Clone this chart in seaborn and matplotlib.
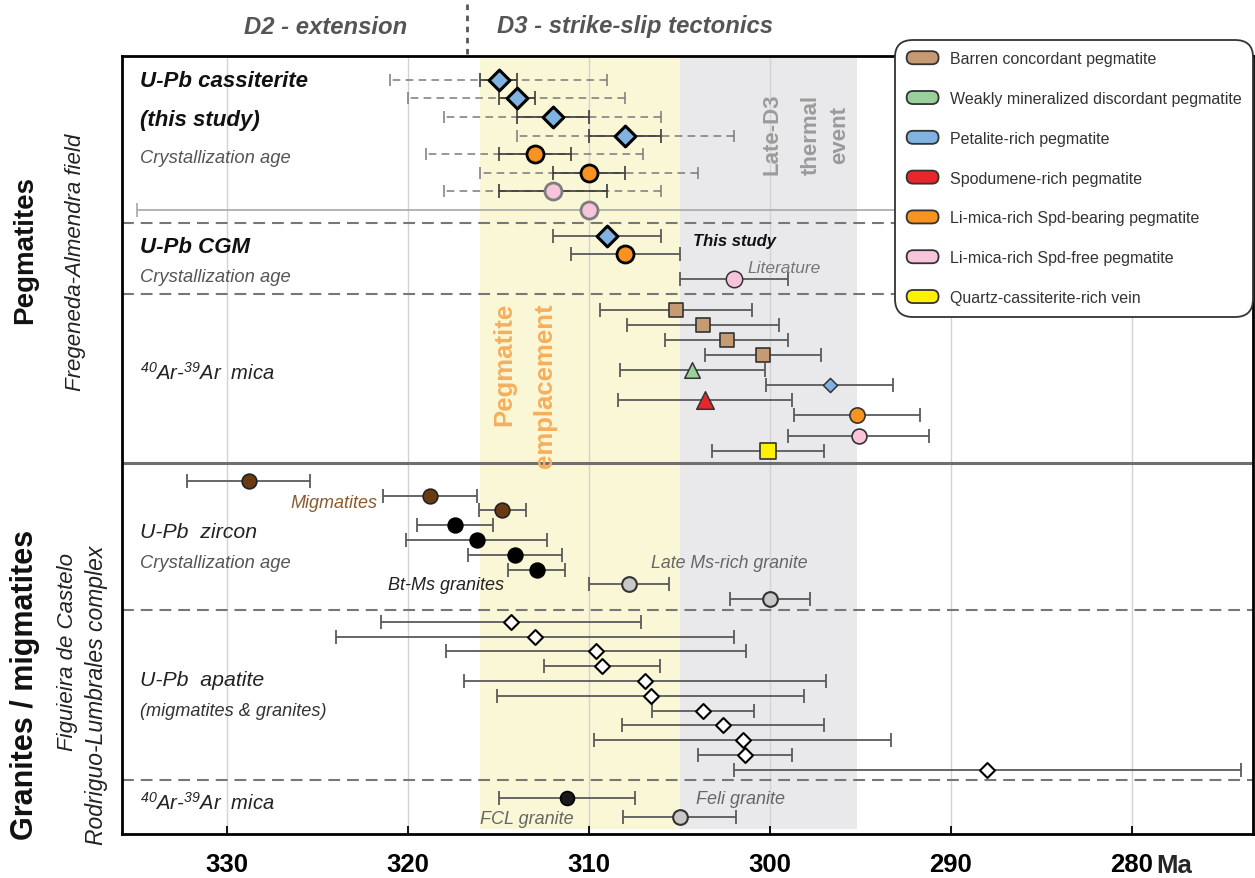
import numpy as np
import pandas as pd
import matplotlib
matplotlib.use("Agg")
import matplotlib.pyplot as plt
import matplotlib.transforms as mtransforms
from matplotlib.patches import FancyBboxPatch, Patch
from matplotlib.legend_handler import HandlerPatch
import seaborn as sns

# ------------------------------------------------------------------ data
# U-Pb cassiterite (this study): age (Ma), inner 2s, total uncertainty
cst_age   = [315.0, 314.0, 312.0, 308.0, 313.0, 310.0, 312.0, 310.0]
cst_in    = [1.0, 1.0, 2.0, 2.0, 2.0, 2.0, 3.0, 0.0]
cst_out   = [6.0, 6.0, 6.0, 6.0, 6.0, 6.0, 6.0, 25.0]
cst_group = ["cst_pet", "cst_pet", "cst_pet", "cst_pet",
             "cst_spd", "cst_spd", "cst_free", "cst_free"]

# U-Pb CGM
cgm_age   = [309.0, 308.0, 302.0]
cgm_err   = [3.0, 3.0, 3.0]
cgm_group = ["cst_pet", "cst_spd", "lit_free"]

# 40Ar-39Ar mica, pegmatites
arp_age   = [305.2, 303.7, 302.4, 300.4, 304.3, 296.7, 303.6, 295.2, 295.1, 300.1]
arp_err   = [4.2, 4.2, 3.4, 3.2, 4.0, 3.5, 4.8, 3.5, 3.9, 3.1]
arp_group = ["barren", "barren", "barren", "barren", "weak", "petalite",
             "spodumene", "limica_spd", "limica_free", "vein"]

# U-Pb zircon, granites / migmatites
zr_age   = [328.8, 318.8, 314.8, 317.4, 316.2, 314.1, 312.9, 307.8, 300.0]
zr_err   = [3.4, 2.6, 1.3, 2.1, 3.9, 2.6, 1.6, 2.2, 2.2]
zr_group = ["migmatite", "migmatite", "migmatite", "btms", "btms", "btms",
            "btms", "late", "late"]

# U-Pb apatite
ap_age = [314.3, 313.0, 309.6, 309.3, 306.9, 306.6, 303.7, 302.6, 301.5, 301.4, 288.0]
ap_err = [7.2, 11.0, 8.3, 3.2, 10.0, 8.5, 2.8, 5.6, 8.2, 2.6, 14.0]

# 40Ar-39Ar mica, granites
arg_age   = [311.2, 305.0]
arg_err   = [3.75, 3.1]
arg_group = ["fcl", "late"]

# time windows
peg_window  = (316.0, 305.0)
late_window = (305.0, 295.2)

x_ticks      = [330, 320, 310, 300, 290, 280]
x_ticklabels = ["330", "320", "310", "300", "290", "280"]

legend_labels = ["Barren concordant pegmatite",
                 "Weakly mineralized discordant pegmatite",
                 "Petalite-rich pegmatite",
                 "Spodumene-rich pegmatite",
                 "Li-mica-rich Spd-bearing pegmatite",
                 "Li-mica-rich Spd-free pegmatite",
                 "Quartz-cassiterite-rich vein"]
legend_colors = ["#C69A72", "#9BD09A", "#80B3E1", "#E8262B",
                 "#F7931E", "#F7C4DB", "#FFF200"]

# ------------------------------------------------------------------ layout
def rows(start, step, idx):
    return [start + step * i for i in idx]

cst_y = rows(23.7, 18.6, range(8))
cgm_y = rows(179.7, 18.6, [0, 1, 2.35])
arp_y = rows(253.7, 15.05, [0, 1, 2, 3, 4, 5, 6, 7, 8.4, 9.4])
zr_y  = rows(424.7, 14.8, range(9))
ap_y  = rows(565.7, 14.8, range(11))
arg_y = rows(742.0, 19.3, [0, 1])

STYLE = {
    "cst_pet":    dict(marker="D", s=112, fc="#80B3E1", ec="black", lw=2.2),
    "cst_spd":    dict(marker="o", s=150, fc="#F7931E", ec="black", lw=2.0),
    "cst_free":   dict(marker="o", s=150, fc="#F7C4DB", ec="#7d7d7d", lw=2.0),
    "lit_free":   dict(marker="o", s=140, fc="#F7C4DB", ec="#333333", lw=1.1),
    "barren":     dict(marker="s", s=95,  fc="#C69A72", ec="#333333", lw=1.2),
    "weak":       dict(marker="^", s=125, fc="#9BD09A", ec="#333333", lw=1.1),
    "petalite":   dict(marker="D", s=52,  fc="#80B3E1", ec="#333333", lw=1.1),
    "spodumene":  dict(marker="^", s=160, fc="#E8262B", ec="#333333", lw=1.1),
    "limica_spd": dict(marker="o", s=120, fc="#F7931E", ec="#333333", lw=1.2),
    "limica_free":dict(marker="o", s=115, fc="#F7C4DB", ec="#333333", lw=1.2),
    "vein":       dict(marker="s", s=118, fc="#FFF200", ec="#333333", lw=1.2),
    "migmatite":  dict(marker="o", s=112, fc="#6A3A12", ec="#222222", lw=1.2),
    "btms":       dict(marker="o", s=112, fc="#000000", ec="#000000", lw=1.2),
    "late":       dict(marker="o", s=112, fc="#C8C8C8", ec="#333333", lw=1.5),
    "fcl":        dict(marker="o", s=100, fc="#1a1a1a", ec="#000000", lw=1.2),
    "apatite":    dict(marker="D", s=58,  fc="white",   ec="black",   lw=1.5),
}

def px_age(px):
    return 330 - (px - 227) / 18.1

# ------------------------------------------------------------------ style
sns.set_theme(style="white")
FONT = ["Liberation Sans", "DejaVu Sans"]
plt.rcParams["font.family"] = FONT
plt.rcParams["mathtext.fontset"] = "custom"
plt.rcParams["mathtext.rm"] = "Liberation Sans:italic"
plt.rcParams["mathtext.it"] = "Liberation Sans:italic"
plt.rcParams["lines.scale_dashes"] = False

fig = plt.figure(figsize=(12.55, 8.79), dpi=100)
ax = fig.add_axes([122 / 1255, 44 / 879, (1253 - 122) / 1255, 778 / 879])
ax.set_xlim(px_age(122), px_age(1253))
ax.set_ylim(778, 0)

# bands
ax.axvspan(*peg_window, ymin=0.007, color="#FAF7D7", lw=0, zorder=0)
ax.axvspan(*late_window, ymin=0.007, color="#E9E9EB", lw=0, zorder=0)

# grid
ax.set_xticks(x_ticks)
ax.set_xticklabels(x_ticklabels)
ax.grid(axis="x", color="#d2d2d2", lw=1.0, zorder=0.5)
ax.grid(axis="y", visible=False)
ax.set_yticks([])

# separators
for yy in [167, 238, 554, 724]:
    ax.axhline(yy, color="#777777", lw=1.5, ls=(0, (8.5, 5)), zorder=1)
ax.axhline(407, color="#6f6f6f", lw=2.2, zorder=1)

def errbar(x, y, e, color="#5a5a5a", lw=1.3, cap=5, ls="-", z=2):
    c = ax.errorbar(x, y, xerr=e, fmt="none", ecolor=color, elinewidth=lw,
                    capsize=cap, capthick=lw, zorder=z)
    if ls != "-":
        c.lines[2][0].set_linestyle(ls)
    return c

def points(x, y, groups):
    df = pd.DataFrame({"age": x, "y": y, "group": groups})
    for g, sub in df.groupby("group", sort=False):
        st = STYLE[g]
        sns.scatterplot(data=sub, x="age", y="y", marker=st["marker"], s=st["s"],
                        color=st["fc"], edgecolor=st["ec"], linewidth=st["lw"],
                        ax=ax, zorder=4, legend=False)

# cassiterite
solid_mask = [e == 0 for e in cst_in]
dx = [a for a, m in zip(cst_age, solid_mask) if not m]
dy = [b for b, m in zip(cst_y, solid_mask) if not m]
do = [o for o, m in zip(cst_out, solid_mask) if not m]
di = [i for i, m in zip(cst_in, solid_mask) if not m]
errbar(dx, dy, do, color="#7a7a7a", lw=1.1, cap=4.5, ls=(0, (5.5, 3.8)))
errbar(dx, dy, di, color="#3a3a3a", lw=1.2, cap=5, z=2.5)
sx = [a for a, m in zip(cst_age, solid_mask) if m]
sy = [b for b, m in zip(cst_y, solid_mask) if m]
so = [o for o, m in zip(cst_out, solid_mask) if m]
errbar(sx, sy, so, color="#a8a8a8", lw=1.2, cap=5)
points(cst_age, cst_y, cst_group)

# CGM
errbar(cgm_age, cgm_y, cgm_err)
points(cgm_age, cgm_y, cgm_group)

# Ar-Ar pegmatites
errbar(arp_age, arp_y, arp_err)
points(arp_age, arp_y, arp_group)

# zircon
errbar(zr_age, zr_y, zr_err)
points(zr_age, zr_y, zr_group)

# apatite
errbar(ap_age, ap_y, ap_err)
points(ap_age, ap_y, ["apatite"] * len(ap_age))

# Ar-Ar granites
errbar(arg_age, arg_y, arg_err)
points(arg_age, arg_y, arg_group)

ax.set_xlabel("")
ax.set_ylabel("")

# frame and ticks
for sp in ax.spines.values():
    sp.set_visible(True)
    sp.set_color("black")
    sp.set_linewidth(2.0)
ax.tick_params(axis="x", direction="in", length=6, width=1.3, color="black",
               pad=13, labelsize=18.5, bottom=True, top=False)
for lab_ in ax.get_xticklabels():
    lab_.set_fontweight("bold")
    lab_.set_color("black")
ax.text(280, 0, "Ma", ha="left", va="top", fontsize=18.5, fontweight="bold",
        transform=mtransforms.blended_transform_factory(ax.transData, ax.transAxes)
        + mtransforms.ScaledTranslation(17.5 / 72, -13.5 / 72, fig.dpi_scale_trans))

# ------------------------------------------------------------------ texts in axes
XL = px_age(140)
def lab(y, s, size, weight="normal", color="#222222", style="italic", x=XL, **kw):
    ax.text(x, y, s, fontsize=size, fontweight=weight, color=color, style=style,
            ha=kw.pop("ha", "left"), va=kw.pop("va", "center"), zorder=6, **kw)

lab(24, "U-Pb cassiterite", 16, "bold", "#111111")
lab(63, "(this study)", 16, "bold", "#111111")
lab(101, "Crystallization age", 13.2, color="#555555")
lab(190, "U-Pb CGM", 16, "bold", "#111111")
lab(220, "Crystallization age", 13.2, color="#555555")
lab(316, r"$^{40}$Ar-$^{39}$Ar  mica", 14.5, color="#222222")
lab(475, "U-Pb  zircon", 15.3, color="#222222")
lab(506, "Crystallization age", 13.2, color="#555555")
lab(623, "U-Pb  apatite", 15.3, color="#222222")
lab(655, "(migmatites & granites)", 13.1, color="#333333")
lab(746, r"$^{40}$Ar-$^{39}$Ar  mica", 14.5, color="#222222")

lab(446, "Migmatites", 13, color="#8A5A2E", x=px_age(290))
lab(528, "Bt-Ms granites", 13, color="#222222", x=px_age(388))
lab(507, "Late Ms-rich granite", 12.8, color="#666666", x=px_age(651))
lab(763, "FCL granite", 13, color="#666666", x=px_age(480))
lab(743, "Feli granite", 13, color="#666666", x=px_age(696))
lab(184, "This study", 12, "bold", "#111111", x=px_age(693))
lab(211, "Literature", 12.5, color="#777777", x=px_age(747))

# band labels
for x_, s_ in [(px_age(504), "Pegmatite"), (px_age(545), "emplacement")]:
    ax.text(x_, 246, s_, rotation=90, ha="center", va="top", fontsize=18.5,
            fontweight="bold", color="#F7AE5C", zorder=3)
for x_, s_ in [(px_age(772), "Late-D3"), (px_age(811), "thermal"), (px_age(840), "event")]:
    ax.text(x_, 77.5, s_, rotation=90, ha="center", va="center", fontsize=16,
            fontweight="bold", color="#9B9B9B", zorder=3)

# ------------------------------------------------------------------ header & side labels
fig.text(326 / 1255, 1 - 27 / 879, "D2 - extension", ha="center", va="center",
         fontsize=17.2, fontweight="bold", style="italic", color="#555555")
fig.text(635 / 1255, 1 - 27 / 879, "D3 - strike-slip tectonics", ha="center", va="center",
         fontsize=17.2, fontweight="bold", style="italic", color="#555555")
bt = mtransforms.blended_transform_factory(ax.transData, fig.transFigure)
ax.plot([px_age(467)] * 2, [1 - 5 / 879, 1 - 55 / 879], transform=bt, clip_on=False,
        color="#555555", lw=2.0, ls=(0, (4, 4)))

fig.text(25 / 1255, 1 - 250 / 879, "Pegmatites", rotation=90, ha="center", va="center",
         fontsize=20, fontweight="bold", color="#111111")
fig.text(75 / 1255, 1 - 262 / 879, "Fregeneda-Almendra field", rotation=90, ha="center",
         va="center", fontsize=16, style="italic", color="#222222")
fig.text(25 / 1255, 1 - 685 / 879, "Granites / migmatites", rotation=90, ha="center",
         va="center", fontsize=22, fontweight="bold", color="#111111")
fig.text(68 / 1255, 1 - 652 / 879, "Figuieira de Castelo", rotation=90, ha="center",
         va="center", fontsize=16, style="italic", color="#222222")
fig.text(97 / 1255, 1 - 695 / 879, "Rodriguo-Lumbrales complex", rotation=90, ha="center",
         va="center", fontsize=16.5, style="italic", color="#222222")

# ------------------------------------------------------------------ legend
def pill(legend, orig_handle, xdescent, ydescent, width, height, fontsize):
    return FancyBboxPatch((-xdescent, -ydescent), width, height,
                          boxstyle=f"round,pad=0,rounding_size={height / 2}")

handles = [Patch(facecolor=c, edgecolor="#333333", linewidth=1.3) for c in legend_colors]
leg = fig.legend(handles, legend_labels, loc="upper right",
                 bbox_to_anchor=(1253 / 1255, 1 - 40.7 / 879),
                 handler_map={Patch: HandlerPatch(patch_func=pill)},
                 fontsize=11.5, handlelength=2.0, handleheight=0.88, handletextpad=0.7,
                 labelspacing=1.55, borderpad=0.72, borderaxespad=0, frameon=True,
                 fancybox=True, framealpha=1, edgecolor="#333333", labelcolor="#333333")
leg.get_frame().set_boxstyle("round,pad=0,rounding_size=1.1")
leg.get_frame().set_linewidth(1.3)
leg.set_zorder(10)

fig.savefig("out.png", dpi=100)
